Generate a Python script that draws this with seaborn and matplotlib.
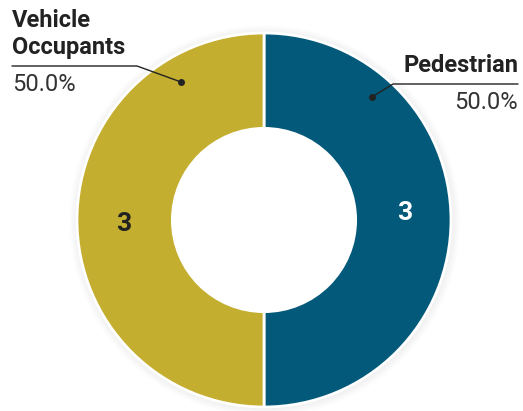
import numpy as np
import matplotlib
matplotlib.use("Agg")
import matplotlib.pyplot as plt
from matplotlib.patches import Wedge
import seaborn as sns

categories = ["Pedestrian", "Vehicle Occupants"]
label_text = ["Pedestrian", "Vehicle\nOccupants"]
values = [3, 3]
colors = ["#03597A", "#C4AE2F"]
value_colors = ["white", "#222222"]

sns.set_theme(style="white")
plt.rcParams['font.family'] = ['Roboto', 'DejaVu Sans']

W, H = 523, 411
fig = plt.figure(figsize=(W / 100, H / 100), dpi=100)
ax = fig.add_axes([0, 0, 1, 1])

cx, cy, R = 264, 220, 187  # pixel center and radius
# soft shadow behind the ring
for i in range(8):
    rr = 1.0 + (i + 1) * 0.006
    ax.add_patch(Wedge((0.004, -0.004), rr, 0, 360, width=0.012,
                       color="#000000", alpha=0.03 * (1 - i / 8), zorder=0, lw=0))
wedges, _ = ax.pie(values, colors=colors, startangle=90, counterclock=False,
                   radius=1.0, wedgeprops=dict(width=0.51, edgecolor="white", linewidth=2))

ax.set_aspect("auto")
ax.set_xlim(-cx / R, (W - cx) / R)
ax.set_ylim(-(H - cy) / R, cy / R)
ax.axis("off")

def px(x, y):
    return ((x - cx) / R, (cy - y) / R)

# value labels in each wedge
total = sum(values)
label_dy = [0.04, -0.02]
for w, v, c, dy in zip(wedges, values, value_colors, label_dy):
    mid = np.deg2rad((w.theta1 + w.theta2) / 2)
    r = 0.75
    ax.text(r * np.cos(mid), r * np.sin(mid) + dy, str(v), ha="center", va="center",
            fontsize=19, fontweight="bold", color=c)

# callouts
pcts = [100 * v / total for v in values]
# Pedestrian (right)
d = px(372, 97); k = px(393, 84); e = px(518, 84)
ax.plot([d[0], k[0], e[0]], [d[1], k[1], e[1]], color="#222222", lw=1)
ax.plot(*d, "o", color="#222222", ms=4)
ax.text(e[0], e[1] + 0.04, label_text[0], ha="right", va="bottom", fontsize=17,
        fontweight="bold", color="#222222")
ax.text(e[0], e[1] - 0.035, f"{pcts[0]:.1f}%", ha="right", va="top", fontsize=17,
        color="#333333")
# Vehicle occupants (left)
d = px(181, 82); k = px(137, 66); e = px(12, 66)
ax.plot([d[0], k[0], e[0]], [d[1], k[1], e[1]], color="#222222", lw=1)
ax.plot(*d, "o", color="#222222", ms=4)
ax.text(e[0], e[1] + 0.04, label_text[1], ha="left", va="bottom", fontsize=17,
        fontweight="bold", color="#222222", linespacing=1.2)
ax.text(e[0], e[1] - 0.035, f"{pcts[1]:.1f}%", ha="left", va="top", fontsize=17,
        color="#333333")

fig.savefig("out.png", dpi=100)
